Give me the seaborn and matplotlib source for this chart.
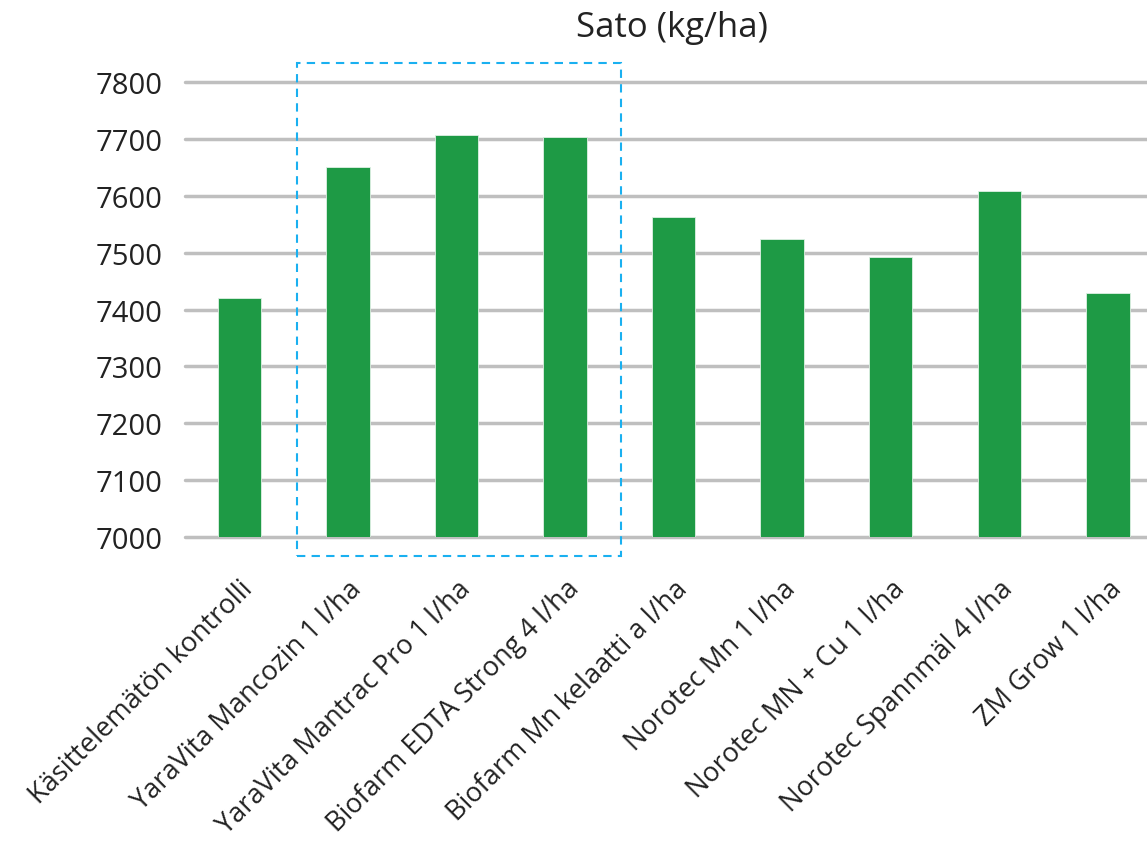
import matplotlib
matplotlib.use("Agg")
import matplotlib.pyplot as plt
from matplotlib.patches import Rectangle
import seaborn as sns
import pandas as pd

categories = [
    "Käsittelemätön kontrolli",
    "YaraVita Mancozin 1 l/ha",
    "YaraVita Mantrac Pro 1 l/ha",
    "Biofarm EDTA Strong 4 l/ha",
    "Biofarm Mn kelaatti a l/ha",
    "Norotec Mn 1 l/ha",
    "Norotec MN + Cu 1 l/ha",
    "Norotec Spannmäl 4 l/ha",
    "ZM Grow 1 l/ha",
]
yields = [7420, 7651, 7708, 7703, 7563, 7525, 7492, 7608, 7430]
yticks = [7000, 7100, 7200, 7300, 7400, 7500, 7600, 7700, 7800]
title = "Sato (kg/ha)"

df = pd.DataFrame({"cat": categories, "val": yields})

sns.set_style("white")
plt.rcParams["font.family"] = ["Open Sans", "DejaVu Sans"]

W, H = 1147, 845
fig = plt.figure(figsize=(W / 100, H / 100), dpi=100)
ax = fig.add_axes([185 / W, 1 - 538 / H, (W - 185) / W, (538 - 83.3) / H])

sns.barplot(data=df, x="cat", y="val", color="#1E9A45", saturation=1,
            width=0.4, ax=ax, edgecolor="#DFF0E4", linewidth=0.6, zorder=3)

ax.set_ylim(7000, 7800)
ax.set_xlim(-0.5, 8.36)
ax.set_yticks(yticks)
ax.set_yticklabels([str(t) for t in yticks], fontsize=21, color="#222222")
ax.set_xlabel("")
ax.set_ylabel("")
for s in ax.spines.values():
    s.set_visible(False)
ax.yaxis.grid(True, color="#BFBFBF", linewidth=2.5, zorder=0)
ax.xaxis.grid(False)
ax.set_axisbelow(True)
for gl in ax.yaxis.get_gridlines():
    gl.set_clip_on(False)
ax.tick_params(axis="y", length=0, pad=16)
ax.tick_params(axis="x", length=0, pad=27)
ax.set_xticks(range(len(categories)))
ax.set_xticklabels(categories, rotation=45, ha="right", rotation_mode="anchor",
                   fontsize=19.5, color="#222222")

rect = Rectangle((0.534, 6967), 3.515 - 0.534, 7834 - 6967, fill=False,
                 edgecolor="#1AB0F0", linewidth=1.5, linestyle=(0, (4, 3)),
                 clip_on=False, zorder=5)
ax.add_patch(rect)

fig.text(672 / W, 1 - 28 / H, title, ha="center", va="center", fontsize=25,
         color="#222222")

fig.savefig("out.png", dpi=100)
